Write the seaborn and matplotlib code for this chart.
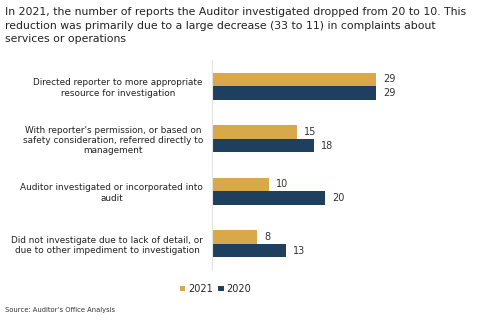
import matplotlib
matplotlib.use("Agg")
import matplotlib.pyplot as plt
import seaborn as sns
import pandas as pd
from matplotlib.patches import Patch

categories = [
    "Directed reporter to more appropriate\nresource for investigation",
    "With reporter's permission, or based on\nsafety consideration, referred directly to\nmanagement",
    "Auditor investigated or incorporated into\naudit",
    "Did not investigate due to lack of detail, or\ndue to other impediment to investigation",
]
years = ["2021", "2020"]
values_2021 = [29, 15, 10, 8]
values_2020 = [29, 18, 20, 13]
colors = ["#D8A84A", "#1F3F5E"]

title = ("In 2021, the number of reports the Auditor investigated dropped from 20 to 10. This\n"
         "reduction was primarily due to a large decrease (33 to 11) in complaints about\n"
         "services or operations")
source = "Source: Auditor\u2019s Office Analysis"

df = pd.DataFrame({
    "category": categories * 2,
    "year": [years[0]] * 4 + [years[1]] * 4,
    "value": values_2021 + values_2020,
})

sns.set_theme(style="white")
plt.rcParams["font.family"] = ["DejaVu Sans"]

fig = plt.figure(figsize=(4.8, 3.23), dpi=100)
ax = fig.add_axes([212 / 480, (323 - 270) / 323, 228 / 480, 210 / 323])

sns.barplot(data=df, y="category", x="value", hue="year", hue_order=years,
            order=categories, palette=colors, width=0.52, gap=0, orient="h",
            ax=ax, legend=False, saturation=1, linewidth=0)

for cont in ax.containers:
    ax.bar_label(cont, padding=5, fontsize=7, color="#333333")

ax.set_xlim(0, 40.3)
ax.set_ylim(3.5, -0.5)
ax.set_xlabel("")
ax.set_ylabel("")
ax.set_xticks([])
for s in ["top", "right", "bottom"]:
    ax.spines[s].set_visible(False)
ax.spines["left"].set_color("#E3E3E3")
ax.spines["left"].set_linewidth(0.8)
ax.tick_params(axis="y", length=0, pad=6.5)
for lbl in ax.get_yticklabels():
    lbl.set_fontsize(6.4)
    lbl.set_multialignment("center")
    lbl.set_color("#222222")

fig.text(0.011, 0.978, title, ha="left", va="top", fontsize=7.82, color="#222222",
         linespacing=1.45)
fig.text(0.011, 1 - 310 / 323, source, ha="left", va="center", fontsize=4.9,
         color="#333333")

handles = [Patch(facecolor=c, edgecolor="none") for c in colors]
fig.legend(handles, years, loc="center", bbox_to_anchor=(0.449, 1 - 289 / 323),
           ncol=2, frameon=False, fontsize=7, handlelength=0.55, handleheight=0.55,
           handletextpad=0.3, columnspacing=0.6)

fig.savefig("out.png", dpi=100)
